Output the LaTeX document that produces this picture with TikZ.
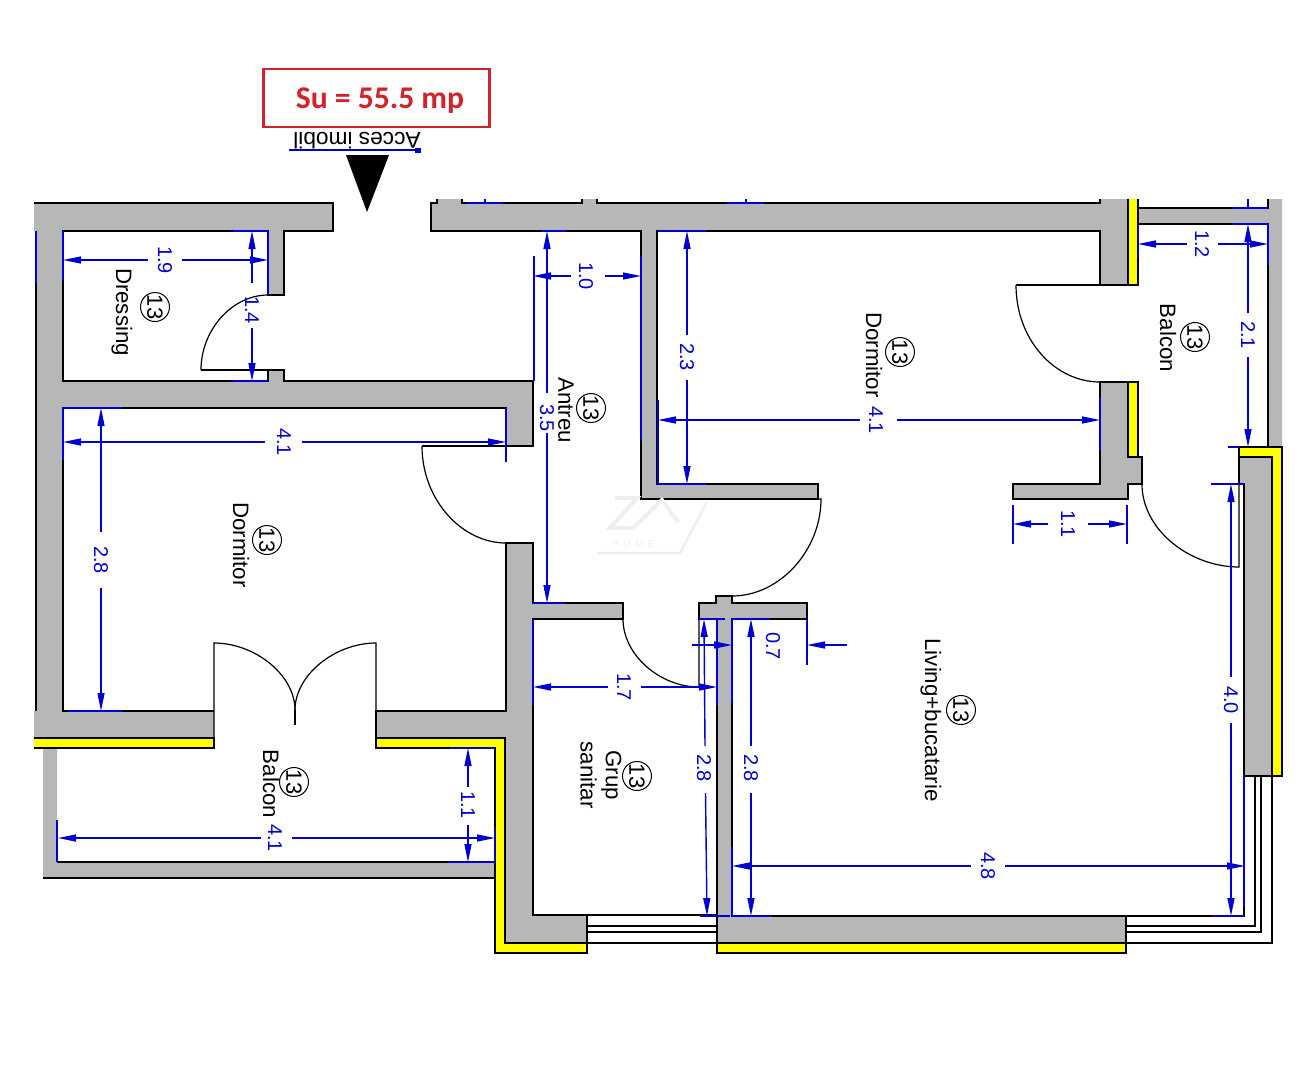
\documentclass[tikz,border=0pt]{standalone}
\usepackage{fontspec}
\setmainfont{Liberation Sans}
\newfontfamily\boxfont{Carlito}
\usetikzlibrary{arrows.meta}
\definecolor{wallgray}{HTML}{B7B7B7}
\definecolor{wallyellow}{HTML}{FFFF00}
\definecolor{dimblue}{HTML}{0000D0}
\definecolor{boxred}{HTML}{D0232B}
\definecolor{markgray}{HTML}{EFEFEF}
\tikzset{>={Triangle[length=18pt,width=7pt]}}
\tikzstyle{wall}=[draw=black,fill=wallgray,line width=1.7pt,line join=miter]
\tikzstyle{wallfill}=[fill=wallgray]
\tikzstyle{edge}=[draw=black,line width=1.7pt]
\tikzstyle{glass}=[draw=black,line width=1.3pt]
\tikzstyle{yellowpart}=[draw=black,fill=wallyellow,line width=1.7pt]
\tikzstyle{door}=[draw=black,line width=1.2pt]
\tikzstyle{dimline}=[draw=dimblue,line width=1.4pt]
\tikzstyle{dimext}=[draw=dimblue,line width=1.2pt]
\tikzstyle{dimtext}=[text=dimblue,font=\fontsize{20}{20}\selectfont,rotate=-90,inner sep=0pt]
\tikzstyle{roomtext}=[font=\fontsize{22.3}{22.3}\selectfont,rotate=-90,inner sep=0pt,align=center]
\tikzstyle{roomtag}=[circle,draw=black,line width=1pt,minimum size=25pt,inner sep=0pt,font=\fontsize{22}{22}\selectfont,rotate=-90]

\begin{document}
\begin{tikzpicture}[x=1pt,y=-1pt]
	\useasboundingbox (0,0) rectangle (1316,1080);

	% left block of walls
	\fill[wallfill] (34,203) -- (333,203) -- (333,231) -- (284,231) -- (284,295) -- (268,295) -- (268,231) -- (63,231) -- (63,381) -- (268,381) -- (268,370) -- (284,370) -- (284,381) -- (533,381) -- (533,446) -- (506,446) -- (506,408) -- (63,408) -- (63,711) -- (214,711) -- (214,738) -- (34,738) -- (34,711) -- (36,711) -- (36,231) -- (34,231) -- cycle;
	\draw[edge] (34,203) -- (333,203) -- (333,231) -- (284,231) -- (284,295) -- (268,295) -- (268,231) -- (63,231) -- (63,381) -- (268,381) -- (268,370) -- (284,370) -- (284,381) -- (533,381) -- (533,446) -- (422,446);
	\draw[edge] (506,446) -- (506,408) -- (63,408) -- (63,711) -- (214,711);
	\draw[edge] (36,231) -- (36,711);
	\draw[edge] (201,370) -- (284,370);

	% middle walls
	\draw[wall] (376,711) -- (506,711) -- (506,543) -- (533,543) -- (533,603) -- (623,603) -- (623,619) -- (533,619) -- (533,915) -- (587,915) -- (587,943) -- (505,943) -- (505,738) -- (376,738) -- cycle;
	\fill[wallfill] (431,203) -- (437,203) -- (437,199) -- (462,199) -- (462,203) -- (582,203) -- (582,199) -- (597,199) -- (597,203) -- (1100,203) -- (1100,199) -- (1128,199) -- (1128,285) -- (1100,285) -- (1100,231) -- (657,231) -- (657,484) -- (818,484) -- (818,499) -- (641,499) -- (641,231) -- (431,231) -- cycle;
	\draw[edge] (462,199) -- (462,203) -- (582,203) -- (582,199);
	\draw[edge] (597,199) -- (597,203) -- (1100,203) -- (1100,199);
	\draw[edge] (437,199) -- (437,203) -- (431,203) -- (431,231) -- (641,231) -- (641,499) -- (818,499) -- (818,484) -- (657,484) -- (657,231) -- (1100,231) -- (1100,285);
	\draw[wall] (699,603) -- (716,603) -- (716,596) -- (732,596) -- (732,603) -- (807,603) -- (807,619) -- (732,619) -- (732,916) -- (1126,916) -- (1126,943) -- (717,943) -- (717,619) -- (699,619) -- cycle;
	\draw[wall] (1100,382) -- (1128,382) -- (1128,457) -- (1142,457) -- (1142,484) -- (1128,484) -- (1128,499) -- (1013,499) -- (1013,484) -- (1100,484) -- cycle;
	\draw[wall] (1239,457) -- (1272,457) -- (1272,776) -- (1244,776) -- (1244,484) -- (1239,484) -- cycle;

	% balcony walls
	\fill[wallfill] (43,748) -- (57,748) -- (57,862) -- (495,862) -- (495,878) -- (43,878) -- cycle;
	\draw[edge] (57,862) -- (495,862);
	\draw[edge] (43,878) -- (495,878);
	\fill[wallfill] (1138,208) -- (1268,208) -- (1268,199) -- (1282,199) -- (1282,447) -- (1268,447) -- (1268,224) -- (1138,224) -- cycle;
	\draw[edge] (1138,208) -- (1268,208) -- (1268,199);
	\draw[edge] (1138,224) -- (1268,224) -- (1268,447);

	% yellow parts
	\fill[wallyellow] (34,738) rectangle (214,748);
	\draw[edge] (34,738) -- (214,738) -- (214,748) -- (34,748);
	\draw[yellowpart] (376,738) -- (505,738) -- (505,943) -- (587,943) -- (587,953) -- (495,953) -- (495,748) -- (376,748) -- cycle;
	\draw[yellowpart] (717,943) rectangle (1126,953);
	\fill[wallyellow] (1128,199) rectangle (1138,285);
	\draw[edge] (1128,199) -- (1128,285);
	\draw[edge] (1138,199) -- (1138,285) -- (1100,285);
	\draw[yellowpart] (1128,382) rectangle (1138,457);
	\draw[yellowpart] (1239,447) -- (1282,447) -- (1282,776) -- (1272,776) -- (1272,457) -- (1239,457) -- cycle;

	% windows
	\foreach \yy in {915,926,932,943} {
		\draw[glass] (587,\yy) -- (717,\yy);
	};
	\draw[glass] (1126,926) -- (1255,926) -- (1255,776);
	\draw[glass] (1126,932) -- (1261,932) -- (1261,776);
	\draw[glass] (1126,943) -- (1272,943) -- (1272,776);
	\draw[edge] (1126,916) -- (1244,916) -- (1244,776);

	% doors
	\draw[door] (201,370) .. controls (201,330) and (232,295) .. (268,295);
	\draw[door] (422,446) .. controls (422,500) and (462,543) .. (506,543);
	\draw[door] (214,738) -- (214,643) .. controls (255,643) and (295,675) .. (295,710);
	\draw[door] (376,738) -- (376,643) .. controls (335,643) and (295,675) .. (295,710);
	\draw[door] (295,710) -- (295,725);
	\draw[door] (623,619) .. controls (623,655) and (660,687) .. (699,687) -- (699,619);
	\draw[door] (818,499) -- (821,499) .. controls (821,550) and (780,596) .. (732,596);
	\draw[edge] (1100,285) -- (1016,285);
	\draw[door] (1016,285) .. controls (1016,340) and (1055,382) .. (1100,382);
	\draw[door] (1142,484) .. controls (1142,530) and (1190,567) .. (1239,567) -- (1239,484);

	% extension lines
	\foreach \xa/\ya/\xb/\yb in {36/231/36/283,63/231/63/280,268/231/268/295,233/231/268/231,233/381/268/381,63/408/122/408,63/408/63/460,506/408/506/462,68/711/122/711,534/256/534/381,533/619/533/705,541/231/566/231,641/256/641/440,658/400/658/484,658/231/706/231,658/484/706/484,533/603/565/603,467/203/503/203,485/199/485/203,727/203/764/203,746/199/746/203,1100/398/1100/450,1138/224/1138/257,1268/224/1268/265,1233/224/1268/224,1232/208/1268/208,1248/199/1248/208,1228/447/1239/447,1211/484/1244/484,1013/505/1013/544,1127/505/1127/544,1244/776/1244/906,1212/916/1244/916,732/619/732/703,732/847/732/916,717/619/717/705,699/619/725/619,732/619/770/619,700/916/730/916,732/916/772/916,495/827/495/862,450/748/495/748,448/862/495/862,57/820/57/862,807/619/807/665} {
		\draw[dimext] (\xa,\ya) -- (\xb,\yb);
	};

	% horizontal dimensions
	\foreach \xa/\ga/\gb/\xb/\yy/\tx/\lab [count=\n] in {63/148/182/268/260/165/1.9,63/265/302/506/442/284/4.1,533/571/605/641/276/586/1.0,658/860/897/1100/420/876/4.1,1138/1187/1218/1268/244/1202/1.2,732/971/1005/1245/866/988/4.8,533/608/641/717/687/624/1.7,58/261/292/495/838/275/4.1,1013/1048/1088/1127/524/1068/1.1} {
		\draw[dimline,->] (\ga,\yy) -- (\xa,\yy);
		\draw[dimline,->] (\gb,\yy) -- (\xb,\yy);
		\node[dimtext] (dh\n) at (\tx,\yy) {\lab};
	};

	% vertical dimensions
	\foreach \ya/\ga/\gb/\yb/\xx/\ty/\lab [count=\n] in {231/283/328/381/252/310/1.4,408/532/588/711/101/560/2.8,231/393/433/603/547/418/3.5,231/335/380/484/687/357/2.3,224/313/357/447/1248/335/2.1,484/677/723/916/1231/700/4.0,619/746/793/916/751/768/2.8,748/787/825/862/468/805/1.1} {
		\draw[dimline,->] (\xx,\ga) -- (\xx,\ya);
		\draw[dimline,->] (\xx,\gb) -- (\xx,\yb);
		\node[dimtext] (dv\n) at (\xx,\ty) {\lab};
	};

	\draw[dimline,->] (705,746) -- (704,619);
	\draw[dimline,->] (705.5,793) -- (707,916);
	\node[dimtext] (dwc) at (704,768) {2.8};

	\draw[dimline,->] (692,645) -- (732,645);
	\draw[dimline,->] (847,645) -- (807,645);
	\node[dimtext] (dopen) at (773,646) {0.7};

	% rooms
	\foreach \tx/\ty/\cx/\cy/\lab [count=\n] in {122/312/155/307/Dressing,241/545/267/540/Dormitor,566/410/591/408/Antreu,874/355/900/352/Dormitor,1168/338/1195/337/Balcon,271/784/294/782/Balcon,931/720/961/710/Living+bucatarie} {
		\node[roomtext] (room\n) at (\tx,\ty) {\lab};
		\node[roomtag] (tag\n) at (\cx,\cy) {13};
	};
	\node[roomtext] (roomgs) at (601,775) {Grup\\[3pt]sanitar};
	\node[roomtag] (taggs) at (637,776) {13};

	% entrance
	\node[font=\fontsize{22.7}{22.7}\selectfont,rotate=180,inner sep=0pt] (acces) at (357,141) {Acces imobil};
	\draw[draw=dimblue,line width=1.3pt] (289,150) -- (421,150);
	\fill[dimblue] (415,147.5) rectangle (421,152.5);
	\fill[black] (346,155) -- (389,155) -- (367,212) -- cycle;

	\node[draw=boxred,line width=2.8pt,minimum width=226pt,minimum height=58pt,inner sep=0pt,text=boxred,font=\boxfont\bfseries\fontsize{31.6}{31.6}\selectfont] (subox) at (376.5,98) {\hspace*{7pt}\raisebox{-10pt}[0pt][0pt]{Su = 55.5 mp}};

	% watermark
	\draw[draw=markgray,line width=4pt] (615,498) -- (637,498) -- (610,528) -- (633,528) -- (662,500) -- (678,522);
	\draw[draw=markgray,line width=2.5pt] (707,502) -- (680,553) -- (597,553);
	\node[text=markgray,font=\fontsize{10}{10}\selectfont\addfontfeature{LetterSpace=40},inner sep=0pt] (markhome) at (633,544) {HOME};
\end{tikzpicture}
\end{document}
